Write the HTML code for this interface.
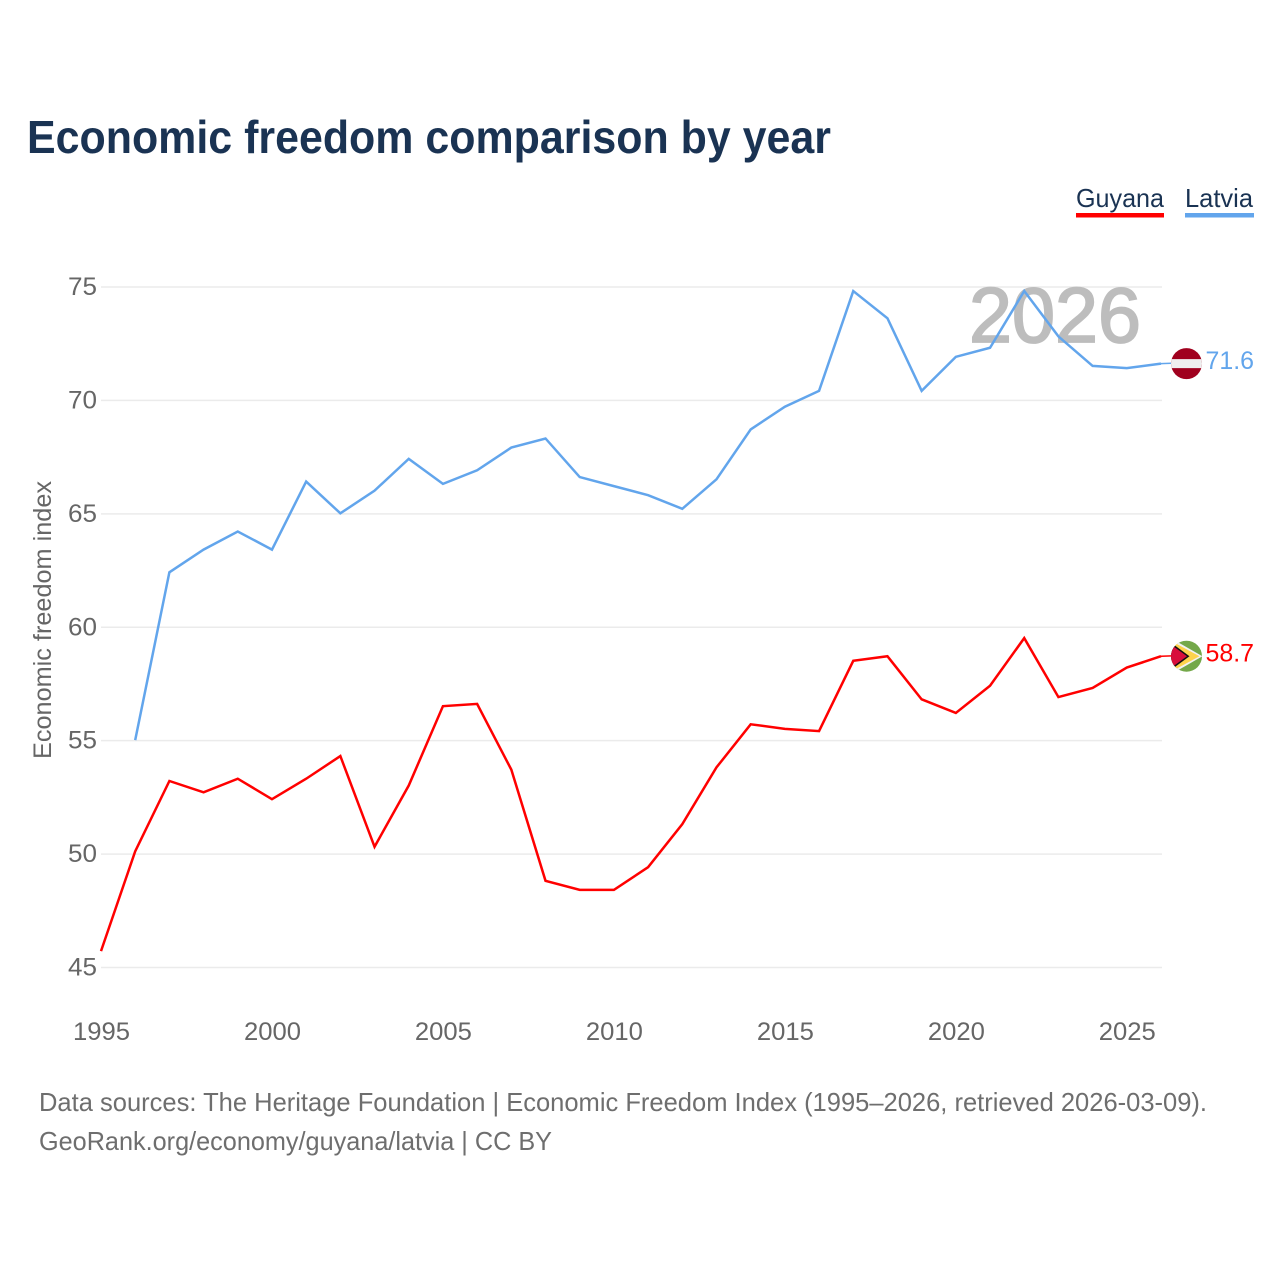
<!DOCTYPE html>
<html lang="en">
<head>
<meta charset="utf-8">
<title>Economic freedom comparison by year</title>
<style>
html,body{margin:0;padding:0;background:#fff;}
svg{display:block;font-family:"Liberation Sans",sans-serif;}
</style>
</head>
<body>
<svg id="chart" width="1280" height="1280" viewBox="0 0 1280 1280" xmlns="http://www.w3.org/2000/svg">
  <defs>
    <clipPath id="clip-lv"><circle cx="0" cy="0" r="15.5"></circle></clipPath>
    <clipPath id="clip-gy"><circle cx="0" cy="0" r="15.5"></circle></clipPath>
  </defs>
  <rect x="0" y="0" width="1280" height="1280" fill="#ffffff"></rect>
  <text x="27" y="153" font-size="46" font-weight="bold" fill="#1a3353" textLength="804" lengthAdjust="spacingAndGlyphs">Economic freedom comparison by year</text>

  <g>
    <text x="1076" y="207" font-size="26" fill="#1a3353" textLength="88" lengthAdjust="spacingAndGlyphs">Guyana</text>
    <rect x="1076" y="213" width="88" height="4.5" fill="#ff0000"></rect>
  </g>
  <g>
    <text x="1185" y="207" font-size="26" fill="#1a3353" textLength="68" lengthAdjust="spacingAndGlyphs">Latvia</text>
    <rect x="1185" y="213" width="69" height="4.5" fill="#62a5ec"></rect>
  </g>

  <g id="grid"></g>
  <g id="y-ticks"></g>
  <g id="x-ticks"></g>

  <text transform="translate(51,620) rotate(-90)" text-anchor="middle" font-size="25" fill="#666666" textLength="278" lengthAdjust="spacingAndGlyphs">Economic freedom index</text>
  <text x="969" y="342" font-size="78" fill="#bdbdbd" stroke="#bdbdbd" stroke-width="1.8" textLength="172" lengthAdjust="spacingAndGlyphs">2026</text>

  <g transform="translate(0,-0.5)">
    <path id="line-latvia" fill="none" stroke="#62a5ec" stroke-width="2.5" stroke-linejoin="miter"></path>
    <path id="line-guyana" fill="none" stroke="#ff0000" stroke-width="2.5" stroke-linejoin="miter"></path>
    <line id="conn-latvia" stroke="#62a5ec" stroke-width="1.5"></line>
    <line id="conn-guyana" stroke="#ff0000" stroke-width="1.5"></line>
  </g>

  <g id="flag-latvia">
    <g clip-path="url(#clip-lv)">
      <rect x="-16" y="-16" width="32" height="32" fill="#a0001e"></rect>
      <rect x="-16" y="-4.5" width="32" height="9" fill="#efefef"></rect>
    </g>
  </g>
  <g id="flag-guyana">
    <g clip-path="url(#clip-gy)">
      <rect x="-16" y="-16" width="32" height="32" fill="#74a84a"></rect>
      <polygon points="-12,-16 16,0 -12,16" fill="#f2f2f2"></polygon>
      <polygon points="-12,-13.5 13,0 -12,13.5" fill="#fdd34c"></polygon>
      <polygon points="-16,-14 3,0 -16,14" fill="#111111"></polygon>
      <polygon points="-16,-12 0.5,0 -16,12" fill="#d80f3c"></polygon>
    </g>
  </g>

  <text id="value-latvia" x="1205.5" font-size="25" fill="#62a5ec" textLength="48.5" lengthAdjust="spacingAndGlyphs"></text>
  <text id="value-guyana" x="1205.5" font-size="25" fill="#ff0000" textLength="48.5" lengthAdjust="spacingAndGlyphs"></text>

  <text x="39" y="1111" font-size="26" fill="#6e6e6e" textLength="1168" lengthAdjust="spacingAndGlyphs">Data sources: The Heritage Foundation | Economic Freedom Index (1995–2026, retrieved 2026-03-09).</text>
  <text x="39" y="1150" font-size="26" fill="#6e6e6e" textLength="513" lengthAdjust="spacingAndGlyphs">GeoRank.org/economy/guyana/latvia | CC BY</text>
</svg>
<script>
const years = [1995,1996,1997,1998,1999,2000,2001,2002,2003,2004,2005,2006,2007,2008,2009,2010,2011,2012,2013,2014,2015,2016,2017,2018,2019,2020,2021,2022,2023,2024,2025,2026];
const guyana = [45.7,50.1,53.2,52.7,53.3,52.4,53.3,54.3,50.3,53.0,56.5,56.6,53.7,48.8,48.4,48.4,49.4,51.3,53.8,55.7,55.5,55.4,58.5,58.7,56.8,56.2,57.4,59.5,56.9,57.3,58.2,58.7];
const latvia = [null,55.0,62.4,63.4,64.2,63.4,66.4,65.0,66.0,67.4,66.3,66.9,67.9,68.3,66.6,66.2,65.8,65.2,66.5,68.7,69.7,70.4,74.8,73.6,70.4,71.9,72.3,74.8,72.8,71.5,71.4,71.6];
const yTickLabels = [45,50,55,60,65,70,75];
const xTickLabels = [1995,2000,2005,2010,2015,2020,2025];

const NS = 'http://www.w3.org/2000/svg';
const xScale = function (year) { return 101 + (year - 1995) * (1161 - 101) / 31; };
const yScale = function (value) { return 967.5 - (value - 45) * (967.5 - 287) / 30; };

const gridGroup = document.getElementById('grid');
const yTickGroup = document.getElementById('y-ticks');
const xTickGroup = document.getElementById('x-ticks');

yTickLabels.forEach(function (tick) {
  const line = document.createElementNS(NS, 'line');
  
  
  line.setAttribute('x1', 101);
  line.setAttribute('x2', 1162);
  line.setAttribute('y1', yScale(tick));
  line.setAttribute('y2', yScale(tick));
  line.setAttribute('stroke', '#ebebeb');
  line.setAttribute('stroke-width', '1.5');
  gridGroup.appendChild(line);

  const label = document.createElementNS(NS, 'text');
  
  
  label.setAttribute('x', 68);
  label.setAttribute('y', yScale(tick) + 8);
  label.setAttribute('font-size', '25');
  label.setAttribute('fill', '#666666');
  label.setAttribute('textLength', '29');
  label.setAttribute('lengthAdjust', 'spacingAndGlyphs');
  label.textContent = String(tick);
  yTickGroup.appendChild(label);
});

xTickLabels.forEach(function (tick) {
  const label = document.createElementNS(NS, 'text');
  
  
  label.setAttribute('x', xScale(tick) - 28);
  label.setAttribute('y', 1040);
  label.setAttribute('font-size', '25');
  label.setAttribute('fill', '#666666');
  label.setAttribute('textLength', '57');
  label.setAttribute('lengthAdjust', 'spacingAndGlyphs');
  label.textContent = String(tick);
  xTickGroup.appendChild(label);
});

function linePath(values) {
  let d = '';
  values.forEach(function (v, i) {
    if (v === null) { return; }
    d += (d === '' ? 'M' : 'L') + xScale(years[i]).toFixed(2) + ' ' + yScale(v).toFixed(2);
  });
  return d;
}

function drawSeries(values, key) {
  document.getElementById('line-' + key).setAttribute('d', linePath(values));
  const last = values[values.length - 1];
  const lastY = yScale(last);
  const conn = document.getElementById('conn-' + key);
  conn.setAttribute('x1', xScale(years[years.length - 1]));
  conn.setAttribute('x2', 1175);
  conn.setAttribute('y1', lastY);
  conn.setAttribute('y2', lastY - 0.5);
  document.getElementById('flag-' + key).setAttribute('transform', 'translate(1186.5,' + (lastY - 0.5) + ')');
  const val = document.getElementById('value-' + key);
  val.setAttribute('y', lastY + 5);
  val.textContent = last.toFixed(1);
}

drawSeries(latvia, 'latvia');
drawSeries(guyana, 'guyana');
</script>
</body>
</html>
